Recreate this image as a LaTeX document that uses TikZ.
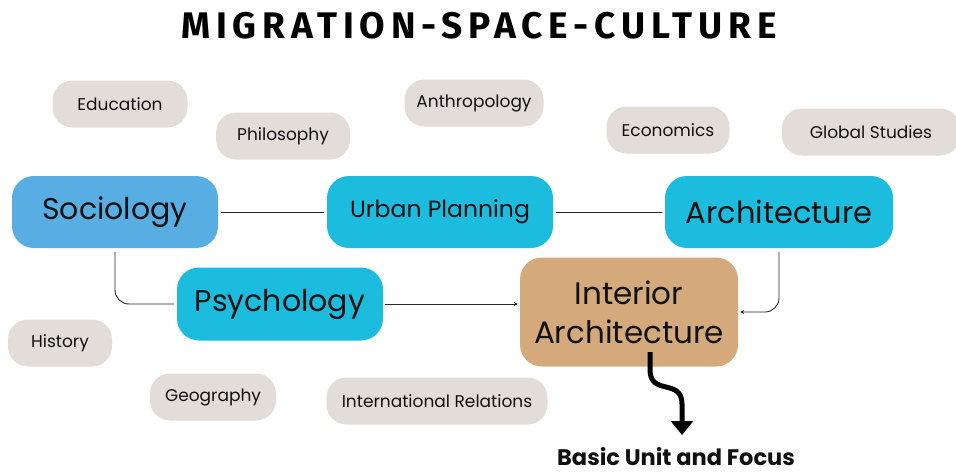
\documentclass[tikz,border=0pt]{standalone}
\usepackage{fontspec}
\setmainfont{Poppins}
\newfontfamily\titlefont[LetterSpace=16]{Fira Sans}
\usetikzlibrary{arrows.meta}
\definecolor{tagc}{HTML}{E3DDDA}
\definecolor{socc}{HTML}{58AEE2}
\definecolor{cyanc}{HTML}{1CBCDE}
\definecolor{tanc}{HTML}{D4A97B}
\definecolor{txt}{HTML}{111111}
\tikzset{
  tag/.style={fill=tagc, rounded corners=20pt, minimum height=47pt, inner sep=0pt, text=txt, font=\fontsize{17}{19}\selectfont},
  major/.style={fill=cyanc, rounded corners=22pt, minimum height=72pt, inner sep=0pt, text=txt, font=\fontsize{30}{34}\selectfont},
  conn/.style={draw=black!85, line width=0.9pt},
  smallhead/.style={-{Stealth[length=4pt,width=4pt]}}
}
\begin{document}
\begin{tikzpicture}[x=1pt,y=-1pt]
\useasboundingbox (0,0) rectangle (956,475);
\fill[white] (0,0) rectangle (956,475);
\node[font=\titlefont\bfseries\fontsize{37}{39}\selectfont] (title) at (479,26) {MIGRATION-SPACE-CULTURE};
% tags
\node[tag, minimum width=135pt] (edu) at (120,104) {Education};
\node[tag, minimum width=134pt] (phi) at (283,136) {Philosophy};
\node[tag, minimum width=139pt] (ant) at (474,103) {Anthropology};
\node[tag, minimum width=123pt] (eco) at (668,130) {Economics};
\node[tag, minimum width=178pt] (glo) at (871,132) {Global Studies};
\node[tag, minimum width=104pt] (his) at (60,343) {History};
\node[tag, minimum width=126pt] (geo) at (213,397) {Geography};
\node[tag, minimum width=221pt] (int) at (437,401) {International Relations};
% majors
\node[major, fill=socc, minimum width=206pt] (soc) at (115,212) {Sociology};
\node[major, minimum width=226pt, font=\fontsize{23.5}{27}\selectfont] (urb) at (440,212) {Urban Planning};
\node[major, minimum width=228pt, font=\fontsize{30.5}{34}\selectfont] (arc) at (779,212) {Architecture};
\node[major, minimum width=206pt, minimum height=73pt, font=\fontsize{30}{34}\selectfont] (psy) at (280,304) {Psychology};
\node[major, fill=tanc, minimum width=218pt, minimum height=109pt, align=center, font=\fontsize{31}{39}\selectfont] (ia) at (629,312) {Interior\\Architecture};
\node[font=\bfseries\fontsize{22.5}{24}\selectfont, text=txt, anchor=base, inner sep=0pt] (basic) at (676,465) {Basic Unit and Focus};
% connectors
\draw[conn, shorten <=3pt, shorten >=3pt] (soc) -- (urb);
\draw[conn, shorten <=3pt, shorten >=3pt] (urb) -- (arc);
\draw[conn, rounded corners=14pt] ([yshift=-4pt]soc.south) |- ([xshift=-3pt]psy.west);
\draw[conn, smallhead, shorten <=2pt, shorten >=2pt] (psy.east) -- (psy.east -| ia.west);
\draw[conn, smallhead, rounded corners=14pt] ([yshift=-4pt]arc.south) |- ([xshift=2pt]ia.east);
\coordinate (st) at (650,352);
\coordinate (tip) at (682,435);
\draw[line width=5pt, -{Triangle[length=14pt,width=22pt]}] (st) -- (650,370) .. controls (650,396) and (682,378) .. (682,404) -- (tip);
\end{tikzpicture}
\end{document}
